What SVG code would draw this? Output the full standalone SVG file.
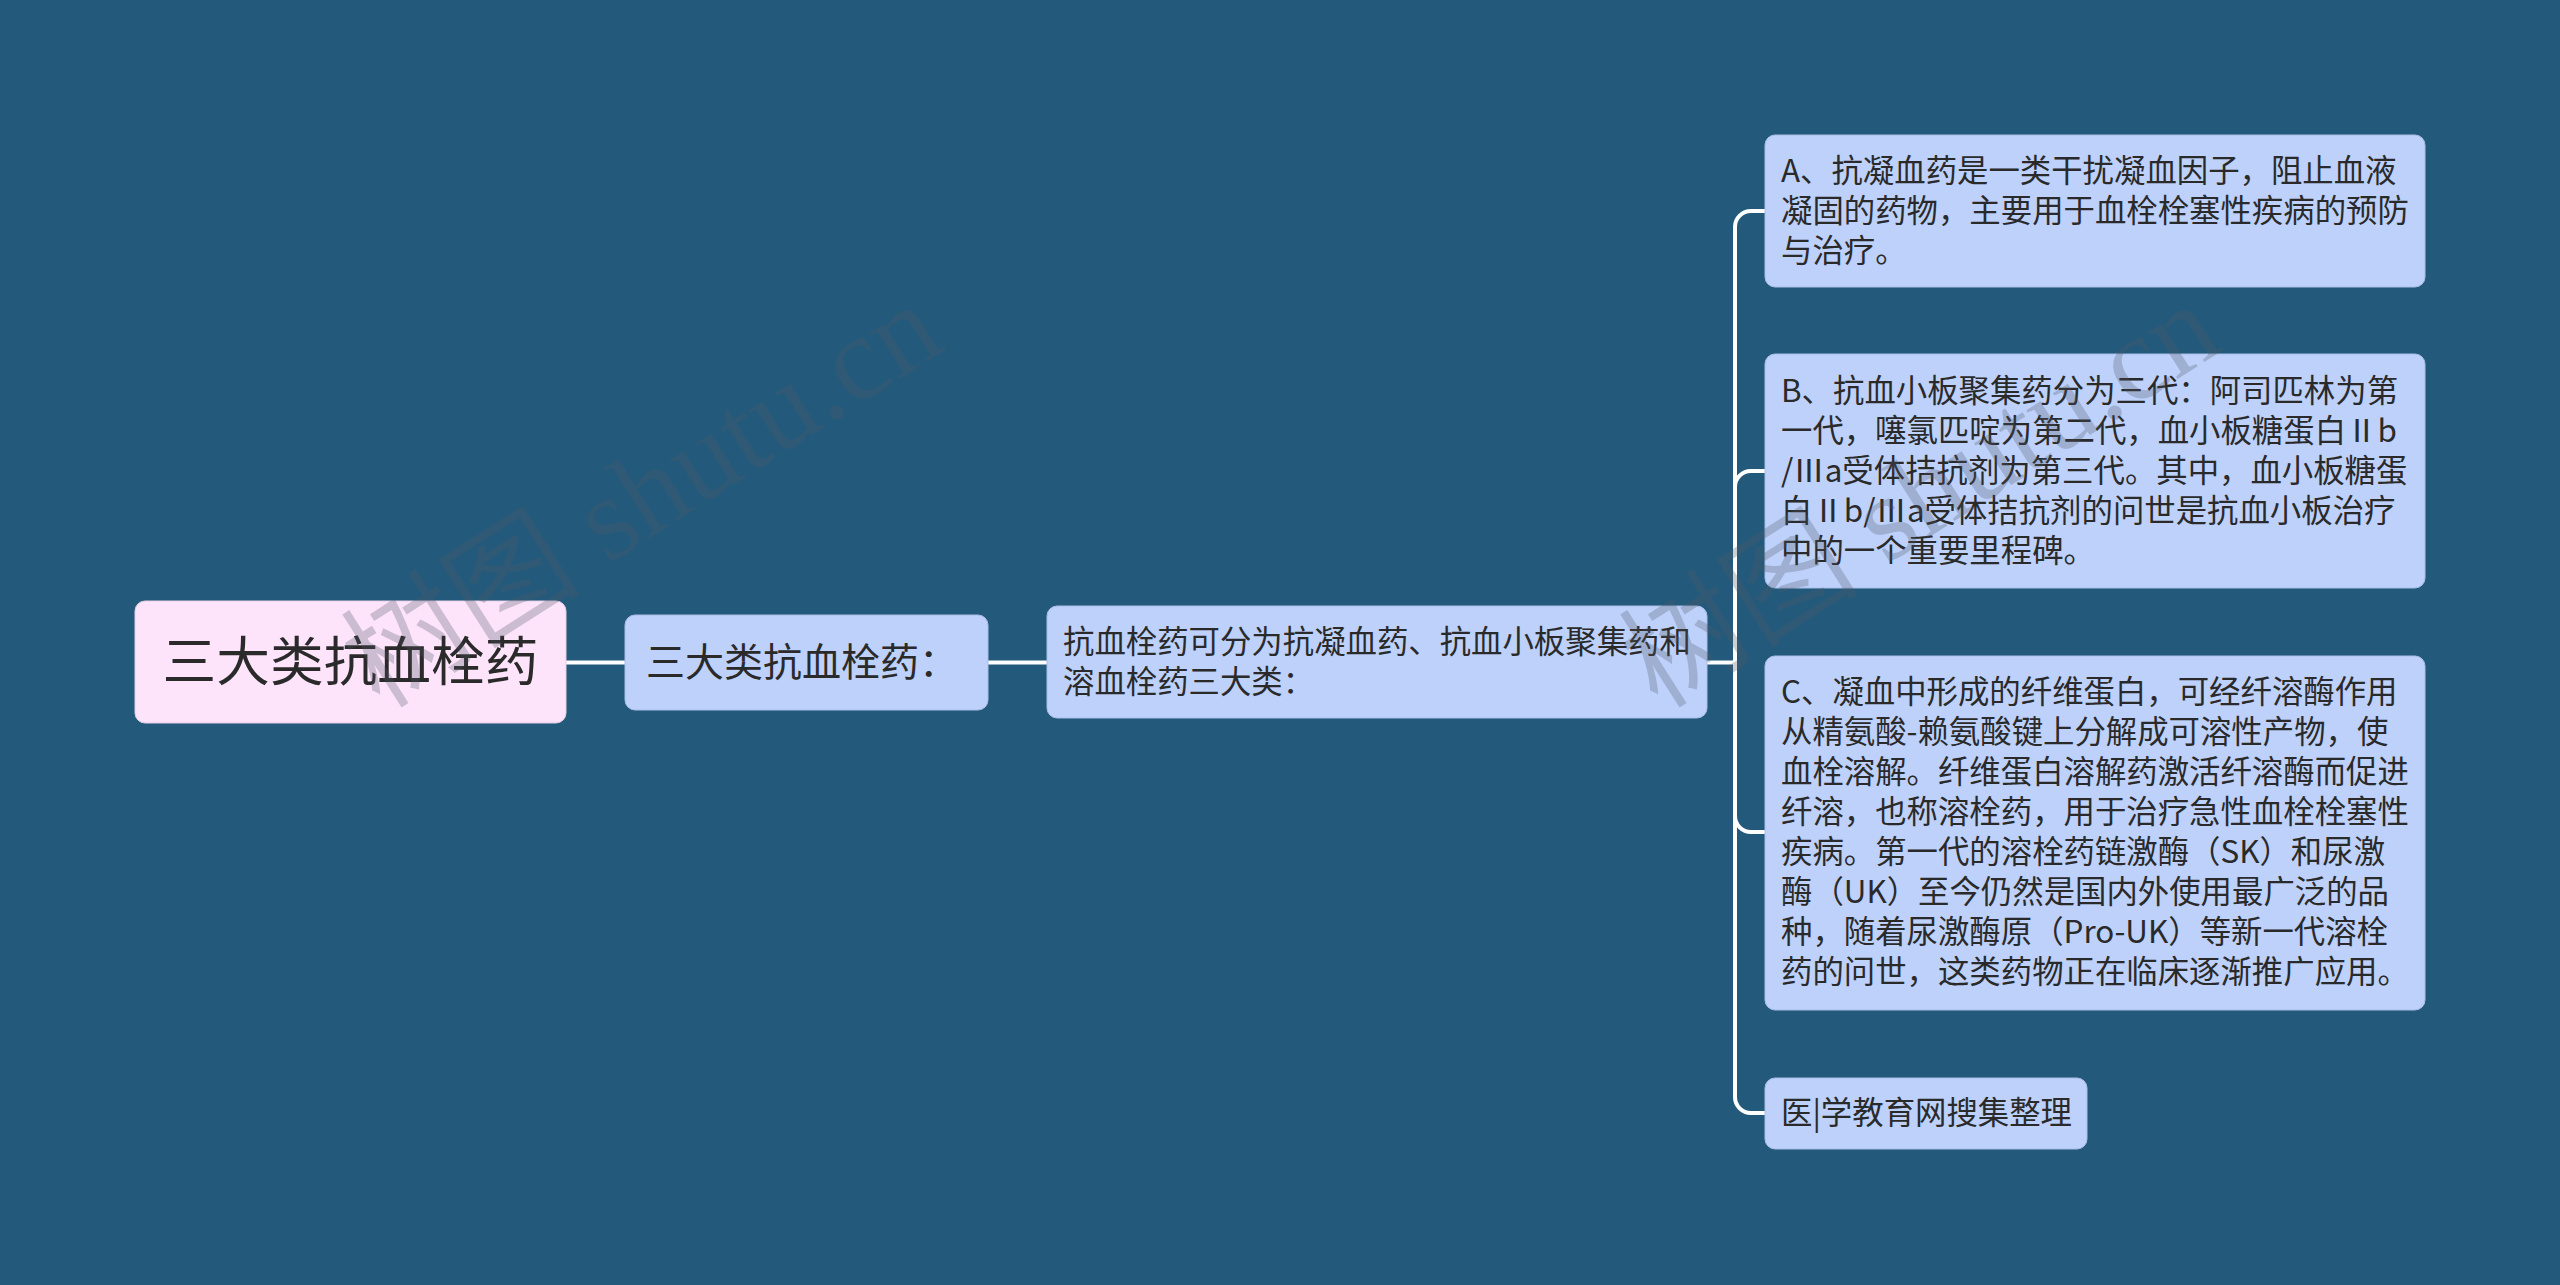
<svg xmlns="http://www.w3.org/2000/svg" width="2560" height="1285" viewBox="0 0 2560 1285">
<style>
.bg{fill:#235a7c}
.node rect{fill:#bdd1fb;stroke:#aabde6;stroke-width:1}
.root rect{fill:#fde4fb;stroke:#e5cde3;stroke-width:1}
text{font-family:"Noto Sans CJK SC","Noto Sans",sans-serif;fill:#2a2a2a}
.t{font-size:31.4px}
.wm{font-family:"Liberation Serif","Noto Sans CJK SC",serif;font-size:120px;fill:#505566;fill-opacity:0.28}
.edges path{fill:none;stroke:#ffffff;stroke-width:4;stroke-linecap:butt}
</style>
<rect class="bg" x="0" y="0" width="2560" height="1285"/>
<g class="edges" id="connectors">
<path d="M566,662.5 H625"/>
<path d="M988,662.5 H1047"/>
<path d="M1707,662.5 H1735"/>
<path d="M1735,664 V227 A16,16 0 0 1 1751,211 H1765"/>
<path d="M1735,662 V487 A16,16 0 0 1 1751,471 H1765"/>
<path d="M1735,662 V816 A16,16 0 0 0 1751,832 H1765"/>
<path d="M1735,660 V1097 A16,16 0 0 0 1751,1113 H1765"/>
</g>
<g id="root" class="root">
<rect x="135" y="601" width="431" height="122" rx="10"/>
<text x="350.5" y="681" font-size="53.7" text-anchor="middle">三大类抗血栓药</text>
</g>
<g id="n1" class="node">
<rect x="625" y="615" width="363" height="95" rx="10"/>
<text x="646" y="676" font-size="39">三大类抗血栓药：</text>
</g>
<g id="n2" class="node">
<rect x="1047" y="606" width="660" height="112" rx="10"/>
<text class="t" x="1063" y="653">抗血栓药可分为抗凝血药、抗血小板聚集药和</text>
<text class="t" x="1063" y="693">溶血栓药三大类：</text>
</g>
<g id="nA" class="node">
<rect x="1765" y="135" width="660" height="152" rx="10"/>
<text class="t" x="1781" y="182">A、抗凝血药是一类干扰凝血因子，阻止血液</text>
<text class="t" x="1781" y="222">凝固的药物，主要用于血栓栓塞性疾病的预防</text>
<text class="t" x="1781" y="262">与治疗。</text>
</g>
<g id="nB" class="node">
<rect x="1765" y="354" width="660" height="234" rx="10"/>
<text class="t" x="1781" y="402">B、抗血小板聚集药分为三代：阿司匹林为第</text>
<text class="t" x="1781" y="442">一代，噻氯匹啶为第二代，血小板糖蛋白Ⅱb</text>
<text class="t" x="1781" y="482">/Ⅲa受体拮抗剂为第三代。其中，血小板糖蛋</text>
<text class="t" x="1781" y="522">白Ⅱb/Ⅲa受体拮抗剂的问世是抗血小板治疗</text>
<text class="t" x="1781" y="562">中的一个重要里程碑。</text>
</g>
<g id="nC" class="node">
<rect x="1765" y="656" width="660" height="354" rx="10"/>
<text class="t" x="1781" y="703">C、凝血中形成的纤维蛋白，可经纤溶酶作用</text>
<text class="t" x="1781" y="743">从精氨酸-赖氨酸键上分解成可溶性产物，使</text>
<text class="t" x="1781" y="783">血栓溶解。纤维蛋白溶解药激活纤溶酶而促进</text>
<text class="t" x="1781" y="823">纤溶，也称溶栓药，用于治疗急性血栓栓塞性</text>
<text class="t" x="1781" y="863">疾病。第一代的溶栓药链激酶（SK）和尿激</text>
<text class="t" x="1781" y="903">酶（UK）至今仍然是国内外使用最广泛的品</text>
<text class="t" x="1781" y="943">种，随着尿激酶原（Pro-UK）等新一代溶栓</text>
<text class="t" x="1781" y="983">药的问世，这类药物正在临床逐渐推广应用。</text>
</g>
<g id="nD" class="node">
<rect x="1765" y="1078" width="322" height="71" rx="10"/>
<text class="t" x="1781" y="1124">医|学教育网搜集整理</text>
</g>
<g id="watermarks">
<text class="wm" x="380" y="710" transform="rotate(-32.5 380 710)">树图 shutu.cn</text>
<text class="wm" x="1658" y="710" transform="rotate(-32.5 1658 710)">树图 shutu.cn</text>
</g>
</svg>
